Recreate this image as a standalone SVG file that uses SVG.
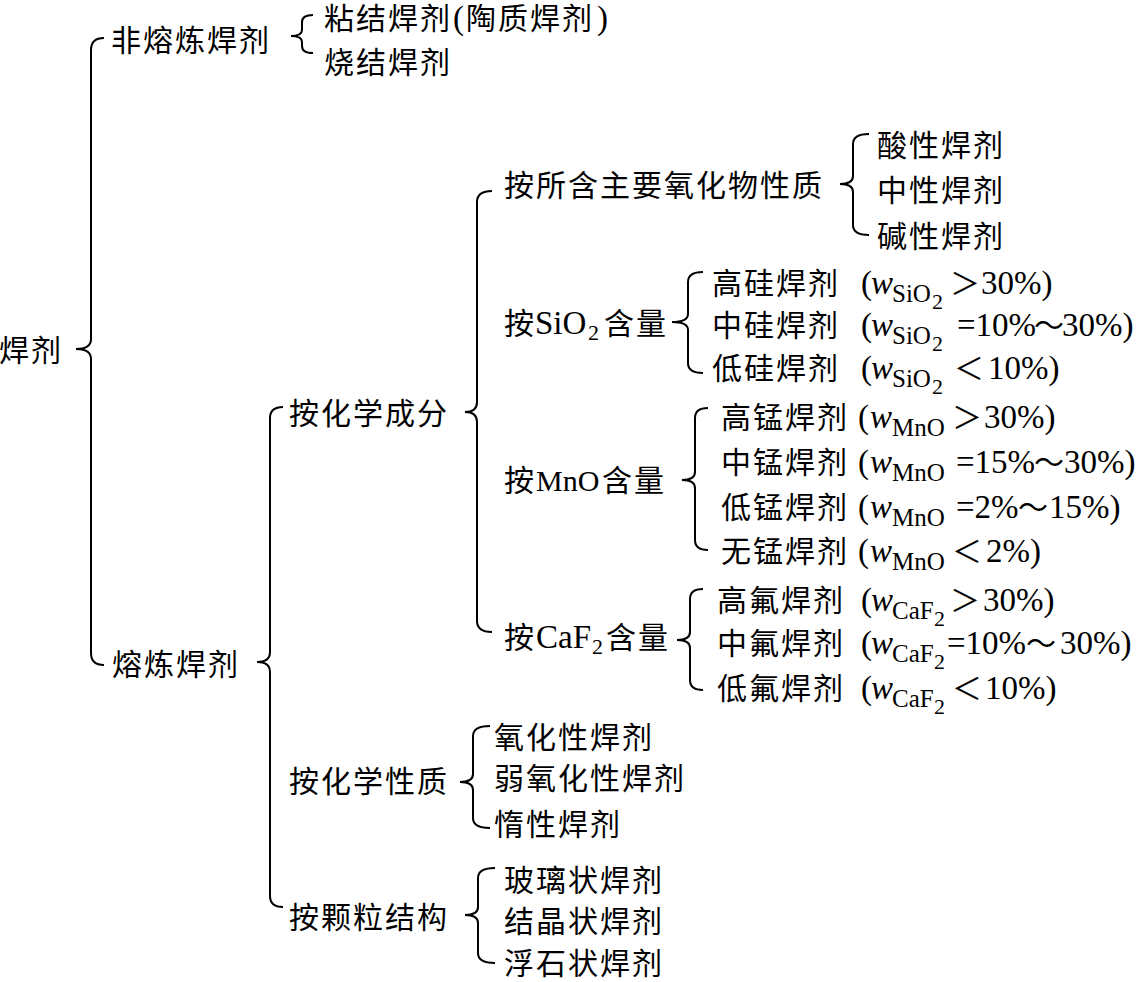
<svg xmlns="http://www.w3.org/2000/svg" width="1140" height="982" viewBox="0 0 1140 982">
<style>
.t{font-family:"Noto Sans CJK SC","Liberation Serif",serif;font-size:30px;letter-spacing:2px;fill:#000}
.l{font-family:"Liberation Serif","Noto Sans CJK SC",serif;font-size:33px;letter-spacing:0}
.c{font-family:"Noto Sans CJK SC",serif;font-size:30px;letter-spacing:0}
.i{font-style:italic}
.s{font-size:25px}
.ss{font-size:22px}
.br{fill:none;stroke:#000;stroke-width:2}
</style>
<rect width="1140" height="982" fill="#fff"/>
<g id="connectors">
<path class="br" d="M104,38 Q91,38 91,50 L91,339 Q91,349 76,349 Q91,349 91,359 L91,653 Q91,665 104,665"/>
<path class="br" d="M313,15 Q302,15 302,22 L302,30 Q302,36 291,36 Q302,36 302,42 L302,46 Q302,53 313,53"/>
<path class="br" d="M283,407 Q270,407 270,418 L270,652 Q270,662 257,662 Q270,662 270,672 L270,896 Q270,907 283,907"/>
<path class="br" d="M492,191 Q477,191 477,202 L477,402 Q477,412 465,412 Q477,412 477,422 L477,621 Q477,632 492,632"/>
<path class="br" d="M869,134 Q853,134 853,144 L853,176 Q853,184 840,184 Q853,184 853,192 L853,225 Q853,235 869,235"/>
<path class="br" d="M703,272 Q688,272 688,282 L688,314 Q688,322 672,322 Q688,322 688,330 L688,363 Q688,373 703,373"/>
<path class="br" d="M708,408 Q695,408 695,418 L695,472 Q695,480 682,480 Q695,480 695,488 L695,540 Q695,550 708,550"/>
<path class="br" d="M703,589 Q690,589 690,599 L690,632 Q690,640 677,640 Q690,640 690,648 L690,680 Q690,690 703,690"/>
<path class="br" d="M490,726 Q473,726 473,736 L473,774 Q473,782 460,782 Q473,782 473,790 L473,818 Q473,828 490,828"/>
<path class="br" d="M495,868 Q478,868 478,878 L478,907 Q478,915 465,915 Q478,915 478,923 L478,953 Q478,963 495,963"/>
</g>
<g id="n-root"><text class="t" x="-1" y="361">焊剂</text></g>
<g id="n-nonfused"><text class="t" x="111" y="51">非熔炼焊剂</text></g>
<g id="n-bonded"><text class="t" x="324" y="29">粘结焊剂<tspan class="l" x="453">(</tspan><tspan x="466">陶质焊剂</tspan><tspan class="l" x="597">)</tspan></text></g>
<g id="n-sintered"><text class="t" x="324" y="73">烧结焊剂</text></g>
<g id="n-fused"><text class="t" x="112" y="675">熔炼焊剂</text></g>
<g id="n-chemcomp"><text class="t" x="289" y="424">按化学成分</text></g>
<g id="n-oxide"><text class="t" x="504" y="196">按所含主要氧化物性质</text></g>
<g id="n-acid"><text class="t" x="877" y="156">酸性焊剂</text></g>
<g id="n-neutral"><text class="t" x="877" y="201">中性焊剂</text></g>
<g id="n-basic"><text class="t" x="877" y="247">碱性焊剂</text></g>
<g id="n-sio2"><text class="t" x="504" y="334">按<tspan class="l" x="535">SiO</tspan><tspan class="l ss" x="588" y="340">2</tspan><tspan x="604" y="334">含量</tspan></text></g>
<g id="n-hisi"><text class="t" x="712" y="294">高硅焊剂<tspan class="l" x="861">(</tspan><tspan class="l i" x="871">w</tspan><tspan class="l s" x="892" y="302">SiO</tspan><tspan class="l ss" x="932" y="309">2</tspan><tspan class="c" x="950" y="294">＞</tspan><tspan class="l" x="981">30%)</tspan></text></g>
<g id="n-midsi"><text class="t" x="712" y="336">中硅焊剂<tspan class="l" x="861">(</tspan><tspan class="l i" x="871">w</tspan><tspan class="l s" x="892" y="344">SiO</tspan><tspan class="l ss" x="932" y="351">2</tspan><tspan class="l" x="957" y="336">=10%</tspan><tspan class="c" x="1034">～</tspan><tspan class="l" x="1062">30%)</tspan></text></g>
<g id="n-losi"><text class="t" x="712" y="379">低硅焊剂<tspan class="l" x="861">(</tspan><tspan class="l i" x="871">w</tspan><tspan class="l s" x="892" y="387">SiO</tspan><tspan class="l ss" x="932" y="394">2</tspan><tspan class="c" x="954" y="379">＜</tspan><tspan class="l" x="988">10%)</tspan></text></g>
<g id="n-mno"><text class="t" x="504" y="491">按<tspan class="l" x="536" style="font-size:30px">MnO</tspan><tspan x="602">含量</tspan></text></g>
<g id="n-himn"><text class="t" x="721" y="428">高锰焊剂<tspan class="l" x="858">(</tspan><tspan class="l i" x="870">w</tspan><tspan class="l s" x="892" y="436">MnO</tspan><tspan class="c" x="952" y="428">＞</tspan><tspan class="l" x="984">30%)</tspan></text></g>
<g id="n-midmn"><text class="t" x="721" y="473">中锰焊剂<tspan class="l" x="858">(</tspan><tspan class="l i" x="870">w</tspan><tspan class="l s" x="892" y="481">MnO</tspan><tspan class="l" x="956" y="473">=15%</tspan><tspan class="c" x="1034">～</tspan><tspan class="l" x="1064">30%)</tspan></text></g>
<g id="n-lomn"><text class="t" x="721" y="518">低锰焊剂<tspan class="l" x="858">(</tspan><tspan class="l i" x="870">w</tspan><tspan class="l s" x="892" y="526">MnO</tspan><tspan class="l" x="956" y="518">=2%</tspan><tspan class="c" x="1018">～</tspan><tspan class="l" x="1049">15%)</tspan></text></g>
<g id="n-nomn"><text class="t" x="721" y="562">无锰焊剂<tspan class="l" x="858">(</tspan><tspan class="l i" x="870">w</tspan><tspan class="l s" x="892" y="570">MnO</tspan><tspan class="c" x="952" y="562">＜</tspan><tspan class="l" x="986">2%)</tspan></text></g>
<g id="n-caf2"><text class="t" x="504" y="648">按<tspan class="l" x="536">CaF</tspan><tspan class="l ss" x="592" y="654">2</tspan><tspan x="606" y="648">含量</tspan></text></g>
<g id="n-hif"><text class="t" x="717" y="611">高氟焊剂<tspan class="l" x="861">(</tspan><tspan class="l i" x="871">w</tspan><tspan class="l s" x="892" y="619">CaF</tspan><tspan class="l ss" x="934" y="626">2</tspan><tspan class="c" x="950" y="611">＞</tspan><tspan class="l" x="983">30%)</tspan></text></g>
<g id="n-midf"><text class="t" x="717" y="654">中氟焊剂<tspan class="l" x="861">(</tspan><tspan class="l i" x="871">w</tspan><tspan class="l s" x="892" y="662">CaF</tspan><tspan class="l ss" x="934" y="669">2</tspan><tspan class="l" x="947" y="654">=10%</tspan><tspan class="c" x="1026">～</tspan><tspan class="l" x="1060">30%)</tspan></text></g>
<g id="n-lof"><text class="t" x="717" y="699">低氟焊剂<tspan class="l" x="861">(</tspan><tspan class="l i" x="871">w</tspan><tspan class="l s" x="892" y="707">CaF</tspan><tspan class="l ss" x="934" y="714">2</tspan><tspan class="c" x="952" y="699">＜</tspan><tspan class="l" x="985">10%)</tspan></text></g>
<g id="n-chemprop"><text class="t" x="289" y="792">按化学性质</text></g>
<g id="n-oxidizing"><text class="t" x="494" y="748">氧化性焊剂</text></g>
<g id="n-weakox"><text class="t" x="494" y="789">弱氧化性焊剂</text></g>
<g id="n-inert"><text class="t" x="494" y="835">惰性焊剂</text></g>
<g id="n-grain"><text class="t" x="289" y="928">按颗粒结构</text></g>
<g id="n-glassy"><text class="t" x="504" y="891">玻璃状焊剂</text></g>
<g id="n-crystal"><text class="t" x="504" y="932">结晶状焊剂</text></g>
<g id="n-pumice"><text class="t" x="504" y="974">浮石状焊剂</text></g>
</svg>
